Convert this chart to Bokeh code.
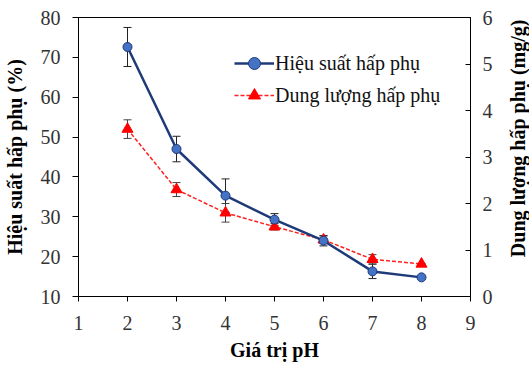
import math
from bokeh.plotting import figure
from bokeh.layouts import row
from bokeh.models import (Range1d, LinearAxis, ColumnDataSource, Whisker, TeeHead,
                          Legend, LegendItem, FixedTicker)
from bokeh.core.properties import value
from bokeh.embed import file_html
from bokeh.resources import INLINE

ph = [2, 3, 4, 5, 6, 7, 8]
efficiency = [72.6, 47.0, 35.3, 29.3, 24.0, 16.3, 14.8]
efficiency_err = [4.9, 3.2, 4.2, 1.5, 1.3, 1.8, 0.0]
capacity = [3.6, 2.3, 1.8, 1.5, 1.22, 0.8, 0.7]
capacity_err = [0.2, 0.15, 0.2, 0.07, 0.08, 0.1, 0.0]

x_ticks = [1, 2, 3, 4, 5, 6, 7, 8, 9]
left_ticks = [10, 20, 30, 40, 50, 60, 70, 80]
right_ticks = [0, 1, 2, 3, 4, 5, 6]
right_title = "Dung lượng hấp phụ (mg/g)"

FONT = "Liberation Serif"

p = figure(width=502, height=367, output_backend="svg", toolbar_location=None,
           x_range=Range1d(1, 9), y_range=Range1d(10, 80),
           min_border_left=77, min_border_right=32, min_border_top=17, min_border_bottom=71)
p.outline_line_color = "black"
p.outline_line_width = 1
p.xgrid.visible = False
p.ygrid.visible = False
p.background_fill_color = "white"
p.border_fill_color = "white"

p.extra_y_ranges = {"cap": Range1d(0, 6)}
ax_r = LinearAxis(y_range_name="cap")
p.add_layout(ax_r, "right")

src = ColumnDataSource(dict(
    x=ph, eff=efficiency, cap=capacity,
    eff_up=[v + e for v, e in zip(efficiency, efficiency_err)],
    eff_lo=[v - e for v, e in zip(efficiency, efficiency_err)],
    cap_up=[v + e for v, e in zip(capacity, capacity_err)],
    cap_lo=[v - e for v, e in zip(capacity, capacity_err)],
))

for ax, ticks in ((p.xaxis[0], x_ticks), (p.yaxis[0], left_ticks), (ax_r, right_ticks)):
    ax.ticker = FixedTicker(ticks=ticks)
    ax.minor_tick_line_color = None
    ax.axis_line_color = "black"
    ax.major_tick_line_color = "black"
    ax.major_label_text_font = FONT
    ax.major_label_text_font_size = "20px"
    ax.major_label_text_color = "#333333"
    ax.axis_label_text_font = FONT
    ax.axis_label_text_font_size = "20px"
    ax.axis_label_text_font_style = "bold"
    ax.axis_label_text_color = "black"

p.xaxis[0].major_tick_out = 5
p.xaxis[0].major_tick_in = 0
p.xaxis[0].major_label_standoff = 14
p.xaxis[0].axis_label = "Giá trị pH"
p.xaxis[0].axis_label_standoff = 6

p.yaxis[0].major_tick_out = 6
p.yaxis[0].major_tick_in = 0
p.yaxis[0].major_label_standoff = 12
p.yaxis[0].axis_label = "Hiệu suất hấp phụ (%)"
p.yaxis[0].axis_label_standoff = 12

ax_r.major_tick_in = 5
ax_r.major_tick_out = 0
ax_r.major_label_standoff = 12

# error bars
w1 = Whisker(source=src, base="x", upper="eff_up", lower="eff_lo",
             line_color="#222222", line_width=1,
             upper_head=TeeHead(size=8, line_color="#222222", line_width=1),
             lower_head=TeeHead(size=8, line_color="#222222", line_width=1))
w2 = Whisker(source=src, base="x", upper="cap_up", lower="cap_lo", y_range_name="cap",
             line_color="#444444", line_width=1,
             upper_head=TeeHead(size=8, line_color="#444444", line_width=1),
             lower_head=TeeHead(size=8, line_color="#444444", line_width=1))
p.add_layout(w1)
p.add_layout(w2)

l2 = p.line("x", "cap", source=src, y_range_name="cap", line_color="#FF2020",
            line_width=1.5, line_dash="4 2")
s2 = p.scatter("x", "cap", source=src, y_range_name="cap", marker="triangle",
               size=11, fill_color="#FF0000", line_color="#FF0000")

l1 = p.line("x", "eff", source=src, line_color="#1F3A78", line_width=2.5)
s1 = p.scatter("x", "eff", source=src, marker="circle", size=9,
               fill_color="#4472C4", line_color="#1F3A78", line_width=1)

legend = Legend(items=[
    LegendItem(label="Hiệu suất hấp phụ", renderers=[l1, s1]),
    LegendItem(label="Dung lượng hấp phụ", renderers=[l2, s2]),
], location=(156, 186))
legend.background_fill_alpha = 0
legend.border_line_color = None
legend.padding = 0
legend.margin = 0
legend.spacing = 2
legend.glyph_width = 40
legend.glyph_height = 30
legend.label_height = 30
legend.label_standoff = 1
legend.label_text_font = FONT
legend.label_text_font_size = "20px"
legend.label_text_color = "#111111"
p.add_layout(legend)

# narrow companion figure carrying the right-hand axis title (reads bottom-to-top)
p2 = figure(width=27, height=367, output_backend="svg", toolbar_location=None,
            x_range=Range1d(0, 27), y_range=Range1d(0, 367),
            min_border=0, min_border_left=0, min_border_right=0,
            min_border_top=0, min_border_bottom=0)
p2.axis.visible = False
p2.grid.visible = False
p2.outline_line_color = None
p2.background_fill_color = "white"
p2.border_fill_color = "white"
p2.text(x=[15.5], y=[367 - 159], text=[right_title], angle=math.pi / 2,
        text_font=value(FONT), text_font_size="20px", text_font_style="bold",
        text_align="center", text_baseline="middle", text_color="black")

layout = row(p, p2, spacing=0)
open("out.html", "w").write(file_html(layout, INLINE))
